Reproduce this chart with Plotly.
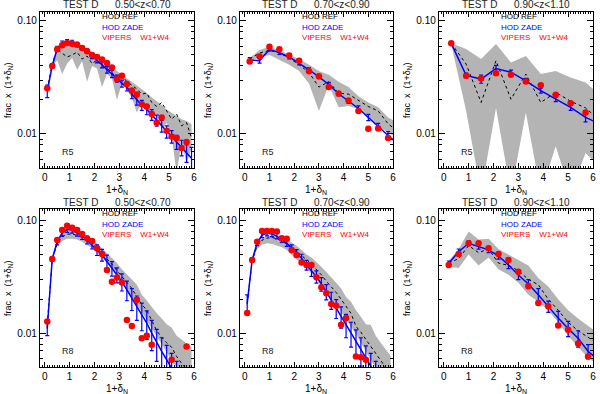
import plotly.graph_objects as go
import numpy as np

# ---------------- data ----------------
titles = ["TEST D      0.50<z<0.70", "TEST D      0.70<z<0.90", "TEST D      0.90<z<1.10",
          "TEST D      0.50<z<0.70", "TEST D      0.70<z<0.90", "TEST D      0.90<z<1.10"]
radius_labels = ["R5", "R5", "R5", "R8", "R8", "R8"]
legend_labels = ["HOD REF", "HOD ZADE", "VIPERS    W1+W4"]
x_ticks = [0, 1, 2, 3, 4, 5, 6]
y_ticks = [0.01, 0.1]
y_ticktext = ["0.01", "0.10"]

# panel 1 : R5, 0.5<z<0.7
p1_x = [0.1, 0.3, 0.5, 0.7, 0.9, 1.1, 1.3, 1.5, 1.7, 1.9, 2.1, 2.3, 2.5, 2.7, 2.9, 3.1, 3.3, 3.5, 3.7, 3.9,
        4.1, 4.3, 4.5, 4.7, 4.9, 5.1, 5.3, 5.5, 5.7, 5.9]
p1_red_x = p1_x[:29]
p1_red = [0.0254, 0.0400, 0.0562, 0.0610, 0.0638, 0.0630, 0.0615, 0.0575, 0.0540, 0.0500, 0.0480, 0.0455,
          0.0424, 0.0387, 0.0307, 0.0327, 0.0277, 0.0243, 0.0224, 0.0183, 0.0175, 0.0150, 0.0126, 0.0140,
          0.0107, 0.0095, 0.0092, 0.0075, 0.0085]
p1_blue = [0.024, 0.040, 0.057, 0.064, 0.066, 0.065, 0.062, 0.058, 0.054, 0.049, 0.045, 0.041, 0.037, 0.034,
           0.031, 0.028, 0.026, 0.0225, 0.020, 0.018, 0.0165, 0.0148, 0.0132, 0.0118, 0.0105, 0.0095, 0.0085,
           0.0076, 0.0068, 0.0061]
p1_blue_err = [0.003, 0.002, 0.0025, 0.0025, 0.0025, 0.0025, 0.0025, 0.0025, 0.0025, 0.0025, 0.0025, 0.0025,
               0.0025, 0.0025, 0.0022, 0.002, 0.002, 0.002, 0.002, 0.0018, 0.0017, 0.0016, 0.0015, 0.0014,
               0.0013, 0.0012, 0.0012, 0.0012, 0.0012, 0.0015]
p1_ref = [0.025, 0.042, 0.056, 0.052, 0.048, 0.050, 0.053, 0.046, 0.049, 0.042, 0.045, 0.040, 0.038, 0.035,
          0.031, 0.033, 0.029, 0.027, 0.025, 0.0225, 0.023, 0.019, 0.0175, 0.019, 0.016, 0.0135, 0.015, 0.0118,
          0.0126, 0.0092]
p1_band_x = p1_x[1:]
p1_band_hi = [0.043, 0.058, 0.064, 0.066, 0.065, 0.062, 0.059, 0.056, 0.053, 0.049, 0.046, 0.042, 0.039,
              0.036, 0.033, 0.031, 0.029, 0.027, 0.025, 0.023, 0.021, 0.0195, 0.018, 0.0165, 0.0155, 0.0145,
              0.0135, 0.013, 0.0122]
p1_band_lo = [0.040, 0.045, 0.034, 0.042, 0.047, 0.037, 0.044, 0.029, 0.040, 0.038, 0.026, 0.034, 0.031,
              0.020, 0.028, 0.024, 0.021, 0.0155, 0.019, 0.017, 0.0135, 0.015, 0.0112, 0.0125, 0.0095, 0.0045,
              0.0085, 0.0055, 0.0075]

# panel 2 : R5, 0.7<z<0.9
p2_x = [0.2, 0.6, 1.0, 1.4, 1.8, 2.2, 2.6, 3.0, 3.4, 3.8, 4.2, 4.6, 5.0, 5.4, 5.8, 6.2]
p2_red_x = p2_x[:15]
p2_red = [0.0438, 0.0484, 0.0592, 0.0561, 0.0494, 0.0444, 0.0358, 0.0324, 0.0261, 0.0228, 0.0198, 0.0160,
          0.0111, 0.0112, 0.0092]
p2_blue = [0.0453, 0.0444, 0.056, 0.0525, 0.048, 0.0424, 0.037, 0.032, 0.0274, 0.0227, 0.0196, 0.0168,
           0.014, 0.0116, 0.0097, 0.0082]
p2_blue_err = [0.002, 0.002, 0.002, 0.002, 0.0018, 0.0015, 0.0015, 0.0012, 0.0012, 0.001, 0.001, 0.0009,
               0.0009, 0.0008, 0.0008, 0.0007]
p2_ref = [0.046, 0.052, 0.055, 0.052, 0.047, 0.041, 0.035, 0.026, 0.029, 0.023, 0.0225, 0.020, 0.0175, 0.016,
          0.0123, 0.0105]
p2_band_x = p2_x
p2_band_hi = [0.047, 0.0554, 0.059, 0.055, 0.050, 0.046, 0.041, 0.036, 0.0335, 0.029, 0.026, 0.0216, 0.019,
              0.0172, 0.014, 0.0126]
p2_band_lo = [0.044, 0.048, 0.050, 0.045, 0.041, 0.036, 0.028, 0.016, 0.027, 0.0172, 0.0177, 0.0166, 0.014,
              0.0114, 0.0104, 0.009]

# panel 3 : R5, 0.9<z<1.1
p3_x = [0.3, 0.9, 1.5, 2.1, 2.7, 3.3, 3.9, 4.5, 5.1, 5.7, 6.3]
p3_red_x = p3_x[:10]
p3_red = [0.0634, 0.0327, 0.0310, 0.0345, 0.0334, 0.0292, 0.0270, 0.0222, 0.0187, 0.0155]
p3_blue = [0.0634, 0.0330, 0.0306, 0.0380, 0.0352, 0.0295, 0.0242, 0.0203, 0.0172, 0.0140, 0.0122]
p3_blue_err = [0.002, 0.0015, 0.0025, 0.0025, 0.0015, 0.0015, 0.0012, 0.001, 0.001, 0.0012, 0.001]
p3_ref = [0.0634, 0.0415, 0.019, 0.0445, 0.0203, 0.0339, 0.019, 0.0233, 0.0195, 0.017, 0.013]
p3_band_x = p3_x
p3_band_hi = [0.0634, 0.0564, 0.046, 0.0625, 0.043, 0.049, 0.034, 0.036, 0.0316, 0.0286, 0.022]
p3_band_lo = [0.062, 0.016, 0.003, 0.017, 0.003, 0.0155, 0.003, 0.0078, 0.003, 0.0068, 0.005]

# panel 4 : R8, 0.5<z<0.7
p4_x = p1_x
p4_red_x = p1_x[:22] + [5.1, 5.7]
p4_red = [0.0127, 0.0457, 0.0673, 0.0826, 0.0903, 0.0867, 0.0826, 0.0762, 0.0697, 0.066, 0.0568, 0.0506,
          0.0365, 0.0287, 0.0312, 0.0282, 0.0131, 0.0116, 0.0198, 0.0090, 0.0095, 0.0079, 0.0058, 0.0076]
p4_blue_x = p1_x[:27]
p4_blue = [0.011, 0.046, 0.065, 0.078, 0.0838, 0.0826, 0.078, 0.073, 0.067, 0.061, 0.055, 0.0496, 0.0433,
           0.0377, 0.033, 0.0287, 0.0242, 0.0204, 0.0172, 0.0145, 0.0123, 0.0100, 0.0082, 0.0069, 0.0058,
           0.0049, 0.0041]
p4_blue_err = [0.0015, 0.002, 0.004, 0.005, 0.005, 0.005, 0.005, 0.005, 0.005, 0.005, 0.006, 0.006, 0.006,
               0.0055, 0.005, 0.005, 0.0048, 0.0045, 0.0042, 0.004, 0.0035, 0.003, 0.0026, 0.0022, 0.002,
               0.0017, 0.0015]
p4_ref = [0.012, 0.045, 0.063, 0.072, 0.076, 0.076, 0.074, 0.071, 0.067, 0.062, 0.057, 0.051, 0.046, 0.041,
          0.036, 0.032, 0.028, 0.025, 0.021, 0.018, 0.016, 0.013, 0.0105, 0.0092, 0.0082, 0.0075, 0.0062,
          0.0054, 0.0047, 0.0042]
p4_band_x = p1_x[1:]
p4_band_hi = [0.047, 0.068, 0.078, 0.082, 0.082, 0.080, 0.077, 0.072, 0.068, 0.063, 0.057, 0.052, 0.047,
              0.042, 0.037, 0.033, 0.030, 0.027, 0.022, 0.0195, 0.017, 0.015, 0.0135, 0.012, 0.0112, 0.0095,
              0.0088, 0.0082, 0.0075]
p4_band_lo = [0.043, 0.060, 0.066, 0.069, 0.069, 0.068, 0.065, 0.061, 0.057, 0.052, 0.047, 0.042, 0.037,
              0.032, 0.028, 0.024, 0.021, 0.018, 0.0155, 0.013, 0.011, 0.0093, 0.0078, 0.0066, 0.0055, 0.0047,
              0.004, 0.0035, 0.003]

# panel 5 : R8, 0.7<z<0.9
p5_red_x = p1_x[:21] + [4.5, 4.7, 4.9]
p5_red = [0.0151, 0.0448, 0.0651, 0.081, 0.081, 0.081, 0.080, 0.0697, 0.069, 0.055, 0.0495, 0.0424, 0.0404,
          0.0404, 0.0314, 0.0256, 0.0226, 0.0182, 0.0175, 0.0119, 0.0136, 0.0062, 0.0061, 0.0058]
p5_blue_x = p1_x[:27]
p5_blue = [0.0184, 0.0448, 0.063, 0.0746, 0.0772, 0.076, 0.073, 0.068, 0.063, 0.057, 0.0513, 0.0463, 0.0404,
           0.036, 0.0318, 0.0274, 0.0234, 0.0197, 0.0167, 0.0141, 0.0119, 0.0100, 0.0085, 0.0071, 0.006,
           0.0051, 0.0043]
p5_blue_err = [0.0035, 0.002, 0.003, 0.004, 0.004, 0.004, 0.004, 0.004, 0.004, 0.004, 0.004, 0.004, 0.004,
               0.004, 0.004, 0.0038, 0.0036, 0.0034, 0.0032, 0.003, 0.0028, 0.0025, 0.0022, 0.002, 0.0017,
               0.0015, 0.0013]
p5_ref = [0.018, 0.044, 0.060, 0.067, 0.070, 0.071, 0.069, 0.066, 0.062, 0.058, 0.053, 0.049, 0.045, 0.041,
          0.037, 0.033, 0.029, 0.026, 0.023, 0.020, 0.0175, 0.015, 0.0115, 0.0102, 0.0088, 0.0076, 0.0065,
          0.0056, 0.0049, 0.0043]
p5_band_x = p1_x[1:]
p5_band_hi = [0.046, 0.063, 0.070, 0.073, 0.074, 0.073, 0.071, 0.068, 0.064, 0.060, 0.055, 0.050, 0.047,
              0.043, 0.039, 0.035, 0.031, 0.028, 0.025, 0.021, 0.019, 0.016, 0.014, 0.012, 0.0118, 0.0095,
              0.0082, 0.0072, 0.0063]
p5_band_lo = [0.042, 0.056, 0.061, 0.063, 0.062, 0.060, 0.058, 0.055, 0.050, 0.045, 0.042, 0.038, 0.034,
              0.030, 0.026, 0.023, 0.020, 0.018, 0.0155, 0.0135, 0.0115, 0.0098, 0.0082, 0.0068, 0.0058,
              0.0049, 0.0042, 0.0037, 0.0033]

# panel 6 : R8, 0.9<z<1.1
p6_x = p2_x
p6_red_x = p2_x[:15]
p6_red = [0.0404, 0.0506, 0.063, 0.063, 0.0568, 0.0506, 0.0448, 0.0352, 0.0263, 0.0185, 0.0173, 0.0117,
          0.0107, 0.0081, 0.0062]
p6_blue = [0.0418, 0.053, 0.063, 0.0588, 0.055, 0.0486, 0.0404, 0.0329, 0.0274, 0.0219, 0.0173, 0.0136,
           0.011, 0.009, 0.0069, 0.0058]
p6_blue_err = [0.002, 0.003, 0.003, 0.003, 0.003, 0.003, 0.003, 0.003, 0.0025, 0.003, 0.002, 0.002, 0.0017,
               0.0015, 0.001, 0.001]
p6_ref = [0.042, 0.046, 0.060, 0.052, 0.056, 0.042, 0.040, 0.036, 0.030, 0.027, 0.020, 0.016, 0.0125, 0.0105,
          0.0092, 0.008]
p6_band_x = p2_x
p6_band_hi = [0.044, 0.056, 0.080, 0.068, 0.069, 0.056, 0.050, 0.045, 0.040, 0.031, 0.026, 0.020, 0.016,
              0.0135, 0.0115, 0.010]
p6_band_lo = [0.039, 0.038, 0.050, 0.040, 0.047, 0.037, 0.033, 0.028, 0.022, 0.019, 0.016, 0.0125, 0.0095,
              0.0075, 0.006, 0.0052]

panels = [
    dict(bx=p1_band_x, lo=p1_band_lo, hi=p1_band_hi, rx=p1_x, ref=p1_ref, blx=p1_x, bl=p1_blue, ble=p1_blue_err, vx=p1_red_x, v=p1_red),
    dict(bx=p2_band_x, lo=p2_band_lo, hi=p2_band_hi, rx=p2_x, ref=p2_ref, blx=p2_x, bl=p2_blue, ble=p2_blue_err, vx=p2_red_x, v=p2_red),
    dict(bx=p3_band_x, lo=p3_band_lo, hi=p3_band_hi, rx=p3_x, ref=p3_ref, blx=p3_x, bl=p3_blue, ble=p3_blue_err, vx=p3_red_x, v=p3_red),
    dict(bx=p4_band_x, lo=p4_band_lo, hi=p4_band_hi, rx=p4_x, ref=p4_ref, blx=p4_blue_x, bl=p4_blue, ble=p4_blue_err, vx=p4_red_x, v=p4_red),
    dict(bx=p5_band_x, lo=p5_band_lo, hi=p5_band_hi, rx=p1_x, ref=p5_ref, blx=p5_blue_x, bl=p5_blue, ble=p5_blue_err, vx=p5_red_x, v=p5_red),
    dict(bx=p6_band_x, lo=p6_band_lo, hi=p6_band_hi, rx=p6_x, ref=p6_ref, blx=p6_x, bl=p6_blue, ble=p6_blue_err, vx=p6_red_x, v=p6_red),
]

# ---------------- layout ----------------
W, H = 600, 394
col_px = [(40, 195), (241, 395), (441, 596)]
row_px = [(12, 168), (209, 367)]
row_yrange = [(0.005, 0.12), (0.005, 0.127)]
FONT = "Liberation Sans, Arial, sans-serif"
GRAY = "#b4b4b4"

fig = go.Figure()
layout = dict(width=W, height=H, autosize=False, margin=dict(l=0, r=0, t=0, b=0, pad=0), showlegend=False,
              plot_bgcolor="white", paper_bgcolor="white", font=dict(family=FONT, color="black", size=10))
annotations = []

x_minor = [round(v, 1) for v in np.arange(-0.1, 6.05, 0.1) if abs(v - round(v)) > 1e-6]
y_minor = [0.006, 0.007, 0.008, 0.009] + [k / 100 for k in range(2, 10)]

for i, p in enumerate(panels):
    r, c = divmod(i, 3)
    n = i + 1
    xa = "x" if n == 1 else f"x{n}"
    ya = "y" if n == 1 else f"y{n}"
    x0, x1 = col_px[c]
    y0, y1 = row_px[r]
    xd = [x0 / W, x1 / W]
    yd = [1 - y1 / H, 1 - y0 / H]
    ylo, yhi = row_yrange[r]
    layout[f"xaxis{n}"] = dict(domain=xd, anchor=ya, range=[-0.2, 6.0], showgrid=False, zeroline=False,
                               showline=True, linecolor="black", linewidth=1, mirror="allticks",
                               ticks="inside", ticklen=5, tickwidth=1, tickcolor="black",
                               tickmode="array", tickvals=x_ticks, tickfont=dict(size=10, family=FONT),
                               minor=dict(tickmode="array", tickvals=x_minor, ticks="inside", ticklen=2,
                                          tickcolor="black", showgrid=False))
    layout[f"yaxis{n}"] = dict(domain=yd, anchor=xa, type="log", range=[np.log10(ylo), np.log10(yhi)],
                               showgrid=False, zeroline=False, showline=True, linecolor="black", linewidth=1,
                               mirror="allticks", ticks="inside", ticklen=6, tickwidth=1, tickcolor="black",
                               tickmode="array", tickvals=y_ticks, ticktext=y_ticktext,
                               tickfont=dict(size=10, family=FONT),
                               minor=dict(tickmode="array", tickvals=y_minor, ticks="inside", ticklen=3,
                                          tickcolor="black", showgrid=False))

    # gray band
    fig.add_trace(go.Scatter(x=p["bx"], y=p["lo"], mode="lines", line=dict(width=0, color=GRAY),
                             xaxis=xa, yaxis=ya, hoverinfo="skip"))
    fig.add_trace(go.Scatter(x=p["bx"], y=p["hi"], mode="lines", line=dict(width=0, color=GRAY),
                             fill="tonexty", fillcolor=GRAY, xaxis=xa, yaxis=ya, hoverinfo="skip"))
    # HOD REF dotted
    fig.add_trace(go.Scatter(x=p["rx"], y=p["ref"], mode="lines", line=dict(color="black", width=1, dash="dot"),
                             xaxis=xa, yaxis=ya))
    # HOD ZADE blue with error bars
    fig.add_trace(go.Scatter(x=p["blx"], y=p["bl"], mode="lines", line=dict(color="#0000ff", width=1.5),
                             error_y=dict(type="data", array=p["ble"], color="#0000ff", thickness=1.2, width=2),
                             xaxis=xa, yaxis=ya))
    # VIPERS red
    fig.add_trace(go.Scatter(x=p["vx"], y=p["v"], mode="markers",
                             marker=dict(color="#ff0000", size=6.5, line=dict(width=0)),
                             xaxis=xa, yaxis=ya, cliponaxis=True))

    cx = (x0 + x1) / 2 / W
    # title
    annotations.append(dict(text=titles[i], x=cx, y=1 - (y0 - 7) / H, xref="paper", yref="paper",
                            showarrow=False, xanchor="center", yanchor="middle",
                            font=dict(size=10, family=FONT, color="#222222")))
    # legend labels
    for k, (lab, col) in enumerate(zip(legend_labels, ["black", "#0000ff", "#ff0000"])):
        annotations.append(dict(text=lab, x=(x0 + 61) / W, y=1 - (y0 + 5 + 10 * k) / H, xref="paper",
                                yref="paper", showarrow=False, xanchor="left", yanchor="middle",
                                font=dict(size=8, family=FONT, color=col)))
    # R label
    annotations.append(dict(text=radius_labels[i], x=(x0 + 20) / W, y=1 - (y1 - 16) / H, xref="paper",
                            yref="paper", showarrow=False, xanchor="left", yanchor="middle",
                            font=dict(size=9, family=FONT, color="#222222")))
    # x title
    annotations.append(dict(text="1+δ<sub>N</sub>", x=cx, y=1 - (y1 + 22) / H, xref="paper", yref="paper",
                            showarrow=False, xanchor="center", yanchor="middle",
                            font=dict(size=10, family=FONT, color="black")))
    # y title
    annotations.append(dict(text="frac  x  (1+δ<sub>N</sub>)", x=(x0 - 32) / W, y=1 - ((y0 + y1) / 2) / H,
                            xref="paper", yref="paper", showarrow=False, textangle=-90,
                            xanchor="center", yanchor="middle",
                            font=dict(size=9, family=FONT, color="black")))

layout["annotations"] = annotations
fig.update_layout(**layout)
fig.write_html("out.html", config={"displayModeBar": False},
               post_script="document.body.style.margin='0px';document.body.style.overflow='hidden';")
